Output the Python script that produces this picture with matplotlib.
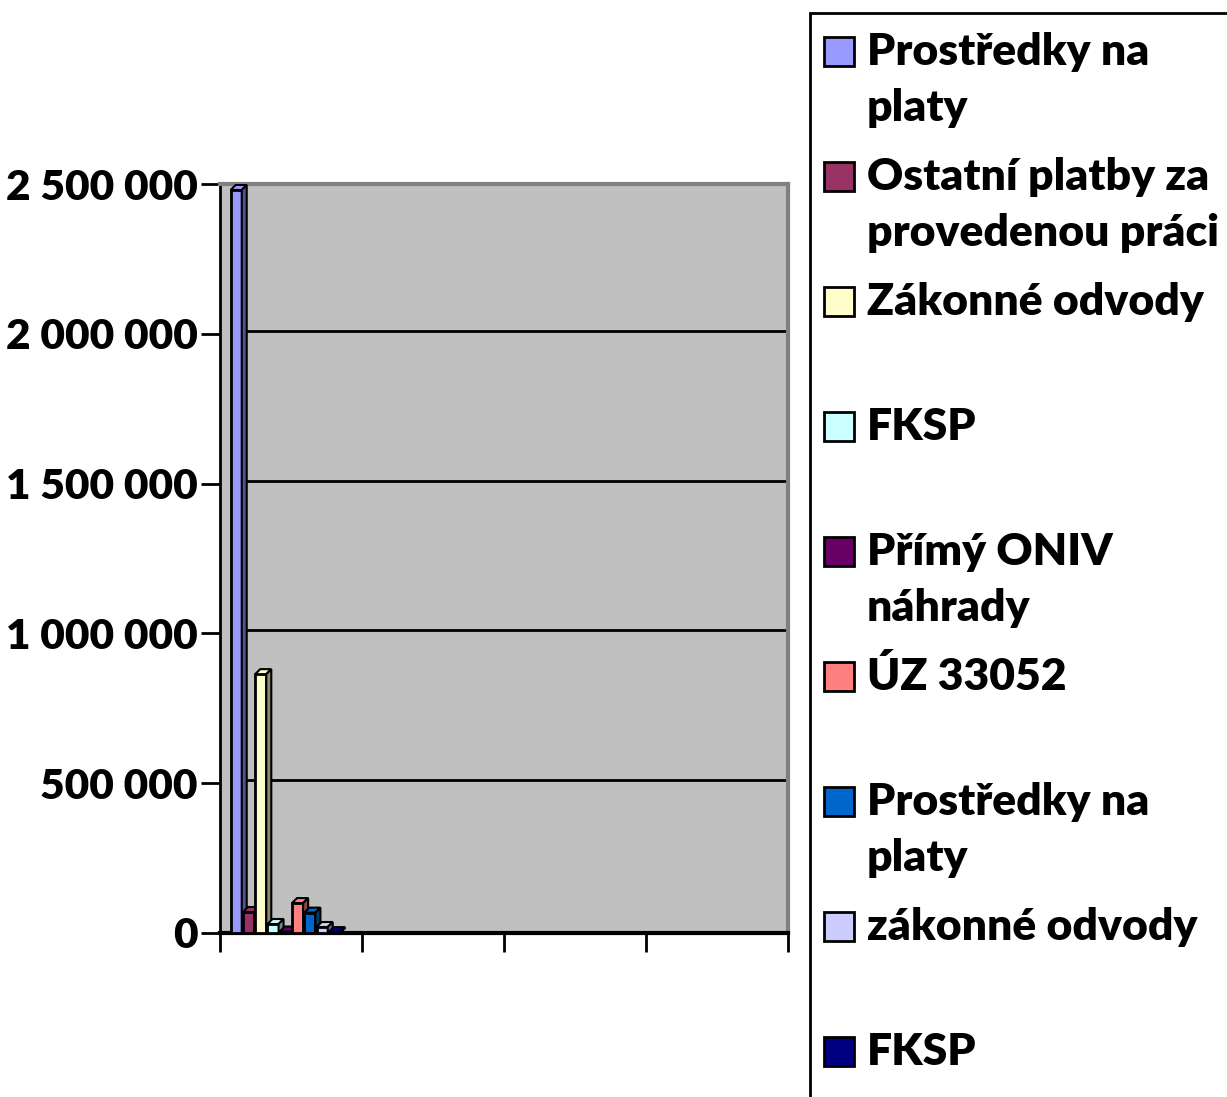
import matplotlib
matplotlib.use("Agg")
import matplotlib.pyplot as plt
from matplotlib.patches import Rectangle, Polygon
import numpy as np

plt.rcParams['font.family'] = ['Lato', 'DejaVu Sans']
plt.rcParams['font.weight'] = 'bold'

# ---- data ----
series_names = ["Prostředky na platy", "Ostatní platby za provedenou práci",
                "Zákonné odvody", "FKSP", "Přímý ONIV náhrady", "ÚZ 33052",
                "Prostředky na platy", "zákonné odvody", "FKSP"]
legend_labels = ["Prostředky na\nplaty", "Ostatní platby za\nprovedenou práci",
                 "Zákonné odvody", "FKSP", "Přímý ONIV\nnáhrady", "ÚZ 33052",
                 "Prostředky na\nplaty", "zákonné odvody", "FKSP"]
values = [2480000, 70000, 864000, 30000, 5000, 100000, 68000, 20000, 3000]
colors = ["#9999FF", "#993366", "#FFFFCC", "#CCFFFF", "#660066",
          "#FF8080", "#0066CC", "#CCCCFF", "#000080"]
yticks = [0, 500000, 1000000, 1500000, 2000000, 2500000]
ytick_labels = ["0", "500 000", "1 000 000", "1 500 000", "2 000 000", "2 500 000"]
n_categories = 4

W, H = 1227, 1097
fig = plt.figure(figsize=(W / 100, H / 100), dpi=100)

def fx(px):
    return px / W

def fy(py):
    return 1 - py / H

ax_l, ax_r, ax_t, ax_b = 220, 788, 184, 933
ax = fig.add_axes([fx(ax_l), fy(ax_b), fx(ax_r - ax_l), (ax_b - ax_t) / H])
ax.set_facecolor("#C0C0C0")
ax.set_xlim(0, n_categories)
ax.set_ylim(0, 2500000)

# 3D-like depth in pixels
dpx, dpy = 5, 5
xunit = (ax_r - ax_l) / n_categories  # px per category
yunit = (ax_b - ax_t) / 2500000
ddx = dpx / xunit
ddy = dpy / yunit

# grid lines (back wall)
for t in yticks[1:-1]:
    ax.plot([ddx * 5, n_categories], [t + ddy * 0.6, t + ddy * 0.6], color="black",
            lw=2, zorder=1)

step = 0.0865
width = 0.078
start = 0.075
for i, (v, c) in enumerate(zip(values, colors)):
    x0 = start + i * step
    ax.bar(x0, v, width=width, align="edge", color=c, edgecolor="black",
           linewidth=2, zorder=3 + i)
    top = Polygon([[x0, v], [x0 + ddx, v + ddy], [x0 + width + ddx, v + ddy],
                   [x0 + width, v]], closed=True, facecolor=c, edgecolor="black",
                  linewidth=1.5, zorder=3 + i)
    ax.add_patch(top)
    rgb = np.array(matplotlib.colors.to_rgb(c)) * 0.55
    side = Polygon([[x0 + width, 0], [x0 + width + ddx, ddy],
                    [x0 + width + ddx, v + ddy], [x0 + width, v]], closed=True,
                   facecolor=rgb, edgecolor="black", linewidth=1.5, zorder=3 + i)
    ax.add_patch(side)

ax.set_yticks(yticks)
ax.set_yticklabels(ytick_labels, fontsize=30.5, fontweight="heavy")
ax.set_xticks(range(n_categories + 1))
ax.set_xticklabels([])
ax.tick_params(axis="y", length=14, width=2, pad=2)
ax.tick_params(axis="x", length=14, width=2, direction="out")
for s in ["top", "right"]:
    ax.spines[s].set_color("#808080")
    ax.spines[s].set_linewidth(3)
ax.spines["left"].set_linewidth(2)
ax.spines["bottom"].set_linewidth(3)

# legend box (manual)
fig.patches.append(Rectangle((fx(810), fy(1200)), fx(600), (1200 - 13) / H,
                             transform=fig.transFigure, fill=False,
                             edgecolor="black", linewidth=2))
for k, (lab, c) in enumerate(zip(legend_labels, colors)):
    base = 65 + 125 * k
    fig.patches.append(Rectangle((fx(824), fy(base + 1)), fx(30), 29 / H,
                                 transform=fig.transFigure, facecolor=c,
                                 edgecolor="black", linewidth=2))
    for j, line in enumerate(lab.split("\n")):
        fig.text(fx(867), fy(base + 56 * j), line, fontsize=32,
                 fontweight="heavy", va="baseline", ha="left")

fig.savefig("out.png", dpi=100)
